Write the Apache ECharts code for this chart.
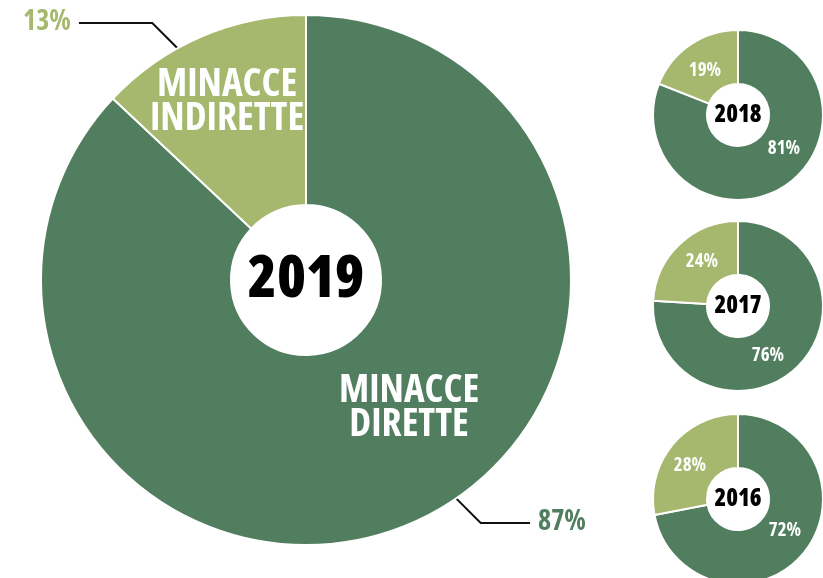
<!DOCTYPE html>
<html><head><meta charset="utf-8">
<script src="https://cdn.jsdelivr.net/npm/echarts@6/dist/echarts.min.js"></script>
<style>html,body{margin:0;padding:0;background:#fff}#c{width:823px;height:578px}</style>
</head><body><div id="c"></div>
<script>
// ---- data ----
const years = ['2019', '2018', '2017', '2016'];
const categories = ['MINACCE DIRETTE', 'MINACCE INDIRETTE'];
const directShare = [87, 81, 76, 72];
const indirectShare = [13, 19, 24, 28];

// ---- fonts (Open Sans variable, condensed width) ----
const FF = "'Open Sans','DejaVu Sans Condensed',sans-serif";
const FW = 'bold condensed';
const FW_YEAR = '800 condensed';
const CAP = 0.714; // cap height / font size
const fs = capPx => Math.round(capPx / CAP * 10) / 10;

// ---- styling / layout ----
const DARK = '#517e5e', LIGHT = '#a5b86d';
const layout = [
  { center: [306, 280], r: 265, r0: 75, yearCap: 42, pctCap: 20,
    pct: [[562, 522], [47, 22]], names: [[409, 408], [227, 102]], leadAngle: [-55.5, 119] },
  { center: [738, 115], r: 85, r0: 31, yearCap: 17, pctCap: 13.5, pct: [[784, 149], [705, 71]] },
  { center: [738, 306], r: 85, r0: 31, yearCap: 17, pctCap: 13.5, pct: [[768, 356], [702, 262]] },
  { center: [738, 499], r: 85, r0: 31, yearCap: 17, pctCap: 13.5, pct: [[785, 531], [690, 466]] }
];

const series = [];
years.forEach((yr, i) => {
  const L = layout[i];
  const vals = [directShare[i], indirectShare[i]];
  const cols = [DARK, LIGHT];
  const base = {
    type: 'pie', center: L.center, radius: [L.r0, L.r], startAngle: 90, clockwise: true,
    silent: true, animation: false, emphasis: { disabled: true }
  };
  if (i === 0) {
    series.push(Object.assign({}, base, {
      itemStyle: { borderColor: '#fff', borderWidth: 2 },
      label: { show: true, position: 'inside', color: '#fff', fontFamily: FF, fontWeight: FW,
        fontSize: fs(28), lineHeight: 34, formatter: p => p.name.replace(' ', '\n') },
      labelLine: { show: false },
      labelLayout: p => ({ x: L.names[p.dataIndex][0], y: L.names[p.dataIndex][1], align: 'center', verticalAlign: 'middle' }),
      data: categories.map((c, k) => ({ name: c, value: vals[k], itemStyle: { color: cols[k] } }))
    }));
    // transparent overlay carrying the percentage callouts
    series.push(Object.assign({}, base, {
      itemStyle: { color: 'rgba(0,0,0,0)', borderWidth: 0 },
      label: { show: true, position: 'outside', fontFamily: FF, fontWeight: FW, fontSize: fs(L.pctCap),
        formatter: p => p.value + '%' },
      labelLine: { show: true, lineStyle: { color: '#111', width: 2 } },
      labelLayout: p => {
        const k = p.dataIndex, a = L.leadAngle[k] * Math.PI / 180;
        const sx = L.center[0] + L.r * Math.cos(a), sy = L.center[1] - L.r * Math.sin(a);
        const ly = L.pct[k][1] + 1;
        const right = sx > L.center[0];
        const ex = right ? sx + (ly - sy) : sx - (sy - ly);
        const halfW = p.labelRect.width / 2 + 8;
        const tx = right ? L.pct[k][0] - halfW : L.pct[k][0] + halfW;
        return { x: L.pct[k][0], y: L.pct[k][1], align: 'center', verticalAlign: 'middle',
          labelLinePoints: [[sx, sy], [ex, ly], [tx, ly]] };
      },
      data: categories.map((c, k) => ({ name: c, value: vals[k], label: { color: cols[k] } }))
    }));
  } else {
    series.push(Object.assign({}, base, {
      itemStyle: { borderColor: '#fff', borderWidth: 2 },
      label: { show: true, position: 'inside', color: '#fff', fontFamily: FF, fontWeight: FW,
        fontSize: fs(L.pctCap), formatter: p => p.value + '%' },
      labelLine: { show: false },
      labelLayout: p => ({ x: L.pct[p.dataIndex][0], y: L.pct[p.dataIndex][1], align: 'center', verticalAlign: 'middle' }),
      data: categories.map((c, k) => ({ name: c, value: vals[k], itemStyle: { color: cols[k] } }))
    }));
  }
  // white centre with the year
  series.push({
    type: 'pie', center: L.center, radius: [0, L.r0], silent: true, animation: false,
    emphasis: { disabled: true }, itemStyle: { color: '#fff' },
    label: { show: true, position: 'center', formatter: '{b}', color: '#000', fontFamily: FF,
      fontWeight: FW_YEAR, fontSize: fs(L.yearCap) },
    labelLine: { show: false },
    data: [{ name: yr, value: 1 }]
  });
});

const chart = echarts.init(document.getElementById('c'), null, { renderer: 'canvas' });
chart.setOption({ backgroundColor: '#fff', animation: false, series });
</script>
</body></html>
